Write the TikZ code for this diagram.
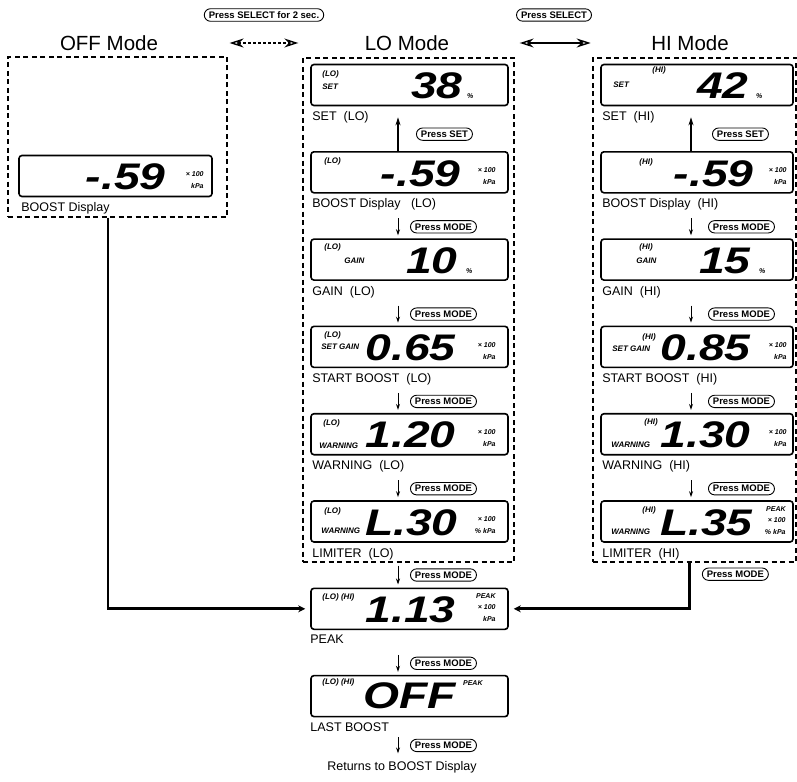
\documentclass[tikz,border=0pt]{standalone}
\usepackage{fontspec}
\setmainfont{Liberation Sans}
\newfontfamily\segfont{Liberation Sans}[FakeStretch=1.25]
\usetikzlibrary{positioning,arrows.meta,shapes.misc}

\tikzset{
   lcd/.style={draw, line width=1.6pt, rounded corners=3pt, minimum width=197pt,
      minimum height=41pt, inner sep=0pt},
   modeframe/.style={draw, line width=1.1pt, dash pattern=on 5pt off 3.5pt, inner sep=0pt},
   pill/.style={draw, rounded rectangle, line width=0.9pt, inner xsep=3.5pt, inner ysep=2.8pt,
      font=\fontsize{9.5}{9.5}\selectfont\bfseries},
   title/.style={font=\fontsize{20.5}{22}\selectfont},
   lcdname/.style={inner sep=0pt, font=\fontsize{12.5}{13}\selectfont},
   ind/.style={anchor=west, inner sep=0pt, font=\fontsize{8}{8}\selectfont\bfseries\itshape},
   seg/.style={anchor=base east, inner sep=0pt, font=\segfont\bfseries\itshape\fontsize{37}{37}\selectfont},
   unit/.style={anchor=east, inner sep=0pt, font=\fontsize{7}{7}\selectfont\bfseries\itshape},
   unitstack/.style={unit, align=right, font=\fontsize{7}{11.5}\selectfont\bfseries\itshape},
   pct/.style={unit, anchor=base west},
   stepdown/.style={line width=1pt, -{Stealth[length=6pt,width=4pt]}},
   stepup/.style={line width=1.2pt, -{Stealth[length=8pt,width=5pt]}},
   feed/.style={line width=2.8pt, -{Stealth[length=7pt,width=7pt]}},
   swap/.style={line width=1.4pt, {Stealth[open,length=14pt,width=9pt]}-{Stealth[open,length=14pt,width=9pt]}},
}

\begin{document}
\begin{tikzpicture}[x=1pt,y=-1pt]
   \useasboundingbox (0,0) rectangle (797,781);

   % modes and switching
   \node[title] (offtitle) at (109,43) {OFF Mode};
   \node[title] (lotitle) at (407,43) {LO Mode};
   \node[title] (hititle) at (690,43) {HI Mode};
   \node[pill] (selhold) at (264,15) {Press SELECT for 2 sec.};
   \node[pill] (selpress) at (554,15) {Press SELECT};
   \draw[swap, dash pattern=on 3pt off 2pt, shorten <=68pt, shorten >=63pt] (offtitle.east) -- (lotitle.west);
   \draw[swap, shorten <=67pt, shorten >=57pt] (lotitle.east) -- (hititle.west);

   \node[modeframe, minimum width=219pt, minimum height=160pt] (offbox) at (117.5,137) {};
   \node[modeframe, minimum width=211pt, minimum height=504pt] (lobox) at (408.5,310) {};
   \node[modeframe, minimum width=203pt, minimum height=504pt] (hibox) at (694.5,310) {};

   % OFF mode
   \node[lcd, minimum width=193pt] (offboost) at (115.5,176) {};
   \node[seg] at ([shift={(-47,35)}]offboost.north east) {-.59};
   \node[unit] at ([shift={(-9,19)}]offboost.north east) {× 100};
   \node[unit] at ([shift={(-9,31)}]offboost.north east) {kPa};
   \node[lcdname, below right=5pt and 3pt of offboost.south west] {BOOST Display};

   % LO mode
   \node[lcd] (loset) at (409.5,85) {};
   \node[lcd, below=44.7pt of loset] (loboost) {};
   \node[lcd, below=44.7pt of loboost] (logain) {};
   \node[lcd, below=44.7pt of logain] (lostart) {};
   \node[lcd, below=44.7pt of lostart] (lowarn) {};
   \node[lcd, below=44.7pt of lowarn] (lolimit) {};

   \node[ind] at ([shift={(12,11)}]loset.north west) {(LO)};
   \node[ind] at ([shift={(12,23)}]loset.north west) {SET};
   \node[seg] at ([shift={(-46,35)}]loset.north east) {38};
   \node[pct] at ([shift={(-42,35)}]loset.north east) {\%};

   \node[ind] at ([shift={(14,10)}]loboost.north west) {(LO)};
   \node[seg] at ([shift={(-48,35)}]loboost.north east) {-.59};
   \node[unit] at ([shift={(-13,19)}]loboost.north east) {× 100};
   \node[unit] at ([shift={(-13,31)}]loboost.north east) {kPa};

   \node[ind] at ([shift={(14,9)}]logain.north west) {(LO)};
   \node[ind] at ([shift={(34,22)}]logain.north west) {GAIN};
   \node[seg] at ([shift={(-51,35)}]logain.north east) {10};
   \node[pct] at ([shift={(-43,35)}]logain.north east) {\%};

   \node[ind] at ([shift={(14,10)}]lostart.north west) {(LO)};
   \node[ind] at ([shift={(11,21)}]lostart.north west) {SET GAIN};
   \node[seg] at ([shift={(-53,35)}]lostart.north east) {0.65};
   \node[unit] at ([shift={(-13,19)}]lostart.north east) {× 100};
   \node[unit] at ([shift={(-13,31)}]lostart.north east) {kPa};

   \node[ind] at ([shift={(13,11)}]lowarn.north west) {(LO)};
   \node[ind] at ([shift={(9,33)}]lowarn.north west) {WARNING};
   \node[seg] at ([shift={(-53,35)}]lowarn.north east) {1.20};
   \node[unit] at ([shift={(-13,19)}]lowarn.north east) {× 100};
   \node[unit] at ([shift={(-13,31)}]lowarn.north east) {kPa};

   \node[ind] at ([shift={(14,11)}]lolimit.north west) {(LO)};
   \node[ind] at ([shift={(11,31)}]lolimit.north west) {WARNING};
   \node[seg] at ([shift={(-51,35)}]lolimit.north east) {L.30};
   \node[unit] at ([shift={(-13,19)}]lolimit.north east) {× 100};
   \node[unit] at ([shift={(-13,31)}]lolimit.north east) {\% kPa};

   \node[lcdname, below right=5pt and 2pt of loset.south west] {SET~~(LO)};
   \node[lcdname, below right=5pt and 2pt of loboost.south west] {BOOST Display~~~(LO)};
   \node[lcdname, below right=5pt and 2pt of logain.south west] {GAIN~~(LO)};
   \node[lcdname, below right=5pt and 2pt of lostart.south west] {START BOOST~~(LO)};
   \node[lcdname, below right=5pt and 2pt of lowarn.south west] {WARNING~~(LO)};
   \node[lcdname, below right=5pt and 2pt of lolimit.south west] {LIMITER~~(LO)};

   \draw[stepup] ([xshift=-11.5pt]loboost.north) -- ([xshift=-11.5pt,yshift=-11pt]loset.south)
      node[pill, midway, right=18pt] {Press SET};
   \draw[stepdown] ([xshift=-11.5pt,yshift=20pt]logain.north) -- ([xshift=-11.5pt,yshift=3pt]logain.north)
      node[pill, midway, right=12pt] {Press MODE};
   \draw[stepdown] ([xshift=-11.5pt,yshift=20pt]lostart.north) -- ([xshift=-11.5pt,yshift=3pt]lostart.north)
      node[pill, midway, right=12pt] {Press MODE};
   \draw[stepdown] ([xshift=-11.5pt,yshift=20pt]lowarn.north) -- ([xshift=-11.5pt,yshift=3pt]lowarn.north)
      node[pill, midway, right=12pt] {Press MODE};
   \draw[stepdown] ([xshift=-11.5pt,yshift=20pt]lolimit.north) -- ([xshift=-11.5pt,yshift=3pt]lolimit.north)
      node[pill, midway, right=12pt] {Press MODE};

   % HI mode
   \node[lcd, minimum width=192pt] (hiset) at (697,85) {};
   \node[lcd, minimum width=192pt, below=44.7pt of hiset] (hiboost) {};
   \node[lcd, minimum width=192pt, below=44.7pt of hiboost] (higain) {};
   \node[lcd, minimum width=192pt, below=44.7pt of higain] (histart) {};
   \node[lcd, minimum width=192pt, below=44.7pt of histart] (hiwarn) {};
   \node[lcd, minimum width=192pt, below=44.7pt of hiwarn] (hilimit) {};

   \node[ind] at ([shift={(13,21)}]hiset.north west) {SET};
   \node[ind] at ([shift={(52,7)}]hiset.north west) {(HI)};
   \node[seg] at ([shift={(-45,35)}]hiset.north east) {42};
   \node[pct] at ([shift={(-38,35)}]hiset.north east) {\%};

   \node[ind] at ([shift={(39,11)}]hiboost.north west) {(HI)};
   \node[seg] at ([shift={(-40,35)}]hiboost.north east) {-.59};
   \node[unit] at ([shift={(-7,19)}]hiboost.north east) {× 100};
   \node[unit] at ([shift={(-7,31)}]hiboost.north east) {kPa};

   \node[ind] at ([shift={(39,9)}]higain.north west) {(HI)};
   \node[ind] at ([shift={(36,22)}]higain.north west) {GAIN};
   \node[seg] at ([shift={(-43,35)}]higain.north east) {15};
   \node[pct] at ([shift={(-35,35)}]higain.north east) {\%};

   \node[ind] at ([shift={(42,12)}]histart.north west) {(HI)};
   \node[ind] at ([shift={(12,23)}]histart.north west) {SET GAIN};
   \node[seg] at ([shift={(-43,35)}]histart.north east) {0.85};
   \node[unit] at ([shift={(-7,19)}]histart.north east) {× 100};
   \node[unit] at ([shift={(-7,31)}]histart.north east) {kPa};

   \node[ind] at ([shift={(44,10)}]hiwarn.north west) {(HI)};
   \node[ind] at ([shift={(11,32)}]hiwarn.north west) {WARNING};
   \node[seg] at ([shift={(-43,35)}]hiwarn.north east) {1.30};
   \node[unit] at ([shift={(-7,19)}]hiwarn.north east) {× 100};
   \node[unit] at ([shift={(-7,31)}]hiwarn.north east) {kPa};

   \node[ind] at ([shift={(42,10)}]hilimit.north west) {(HI)};
   \node[ind] at ([shift={(11,32)}]hilimit.north west) {WARNING};
   \node[seg] at ([shift={(-41,35)}]hilimit.north east) {L.35};
   \node[unitstack] at ([shift={(-8,20)}]hilimit.north east) {PEAK\\× 100\\\% kPa};

   \node[lcdname, below right=5pt and 2pt of hiset.south west] {SET~~(HI)};
   \node[lcdname, below right=5pt and 2pt of hiboost.south west] {BOOST Display~~(HI)};
   \node[lcdname, below right=5pt and 2pt of higain.south west] {GAIN~~(HI)};
   \node[lcdname, below right=5pt and 2pt of histart.south west] {START BOOST~~(HI)};
   \node[lcdname, below right=5pt and 2pt of hiwarn.south west] {WARNING~~(HI)};
   \node[lcdname, below right=5pt and 2pt of hilimit.south west] {LIMITER~~(HI)};

   \draw[stepup] ([xshift=-6pt]hiboost.north) -- ([xshift=-6pt,yshift=-11pt]hiset.south)
      node[pill, midway, right=21pt] {Press SET};
   \draw[stepdown] ([xshift=-6pt,yshift=20pt]higain.north) -- ([xshift=-6pt,yshift=3pt]higain.north)
      node[pill, midway, right=17pt] {Press MODE};
   \draw[stepdown] ([xshift=-6pt,yshift=20pt]histart.north) -- ([xshift=-6pt,yshift=3pt]histart.north)
      node[pill, midway, right=17pt] {Press MODE};
   \draw[stepdown] ([xshift=-6pt,yshift=20pt]hiwarn.north) -- ([xshift=-6pt,yshift=3pt]hiwarn.north)
      node[pill, midway, right=17pt] {Press MODE};
   \draw[stepdown] ([xshift=-6pt,yshift=20pt]hilimit.north) -- ([xshift=-6pt,yshift=3pt]hilimit.north)
      node[pill, midway, right=17pt] {Press MODE};

   % common displays
   \node[lcd, below=44.7pt of lolimit] (peak) {};
   \node[lcd, below=44.7pt of peak] (lastboost) {};

   \node[ind] at ([shift={(12,10)}]peak.north west) {(LO)~(HI)};
   \node[seg] at ([shift={(-53,35)}]peak.north east) {1.13};
   \node[unitstack] at ([shift={(-13,20)}]peak.north east) {PEAK\\× 100\\kPa};

   \node[ind] at ([shift={(12,8)}]lastboost.north west) {(LO)~(HI)};
   \node[seg] at ([shift={(-53,34)}]lastboost.north east) {OFF};
   \node[unit] at ([shift={(-26,8)}]lastboost.north east) {PEAK};

   \node[lcdname, below right=5pt and 0pt of peak.south west] {PEAK};
   \node[lcdname, below right=5pt and 0pt of lastboost.south west] {LAST BOOST};
   \node[lcdname] (back) at (402,767) {Returns to BOOST Display};

   \draw[feed, shorten >=5pt] ([xshift=-9.5pt]offbox.south) |- (peak.west);
   \draw[feed, shorten >=5pt] ([xshift=-5pt]hibox.south) |- (peak.east);
   \node[pill, below right=5pt and 14pt of hibox.south] {Press MODE};

   \draw[stepdown] ([xshift=-11.5pt,yshift=22pt]peak.north) -- ([xshift=-11.5pt,yshift=3pt]peak.north)
      node[pill, midway, right=12pt] {Press MODE};
   \draw[stepdown] ([xshift=-11.5pt,yshift=20pt]lastboost.north) -- ([xshift=-11.5pt,yshift=3pt]lastboost.north)
      node[pill, midway, right=12pt] {Press MODE};
   \draw[stepdown] ([xshift=-11.5pt,yshift=-20pt]lastboost.south) -- ([xshift=-11.5pt,yshift=-36pt]lastboost.south)
      node[pill, midway, right=12pt] {Press MODE};
\end{tikzpicture}
\end{document}
